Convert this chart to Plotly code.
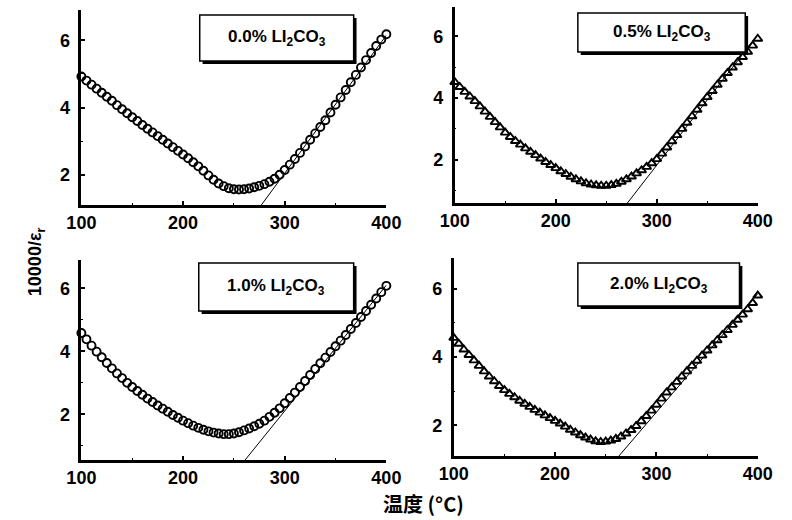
import plotly.graph_objects as go

# Temperature grid (°C) shared by all four samples
temperature = [100, 105, 110, 115, 120, 125, 130, 135, 140, 145, 150, 155, 160, 165, 170,
               175, 180, 185, 190, 195, 200, 205, 210, 215, 220, 225, 230, 235, 240, 245,
               250, 255, 260, 265, 270, 275, 280, 285, 290, 295, 300, 305, 310, 315, 320,
               325, 330, 335, 340, 345, 350, 355, 360, 365, 370, 375, 380, 385, 390, 395, 400]

# 10000/eps_r for each Li2CO3 content
inv_eps_00 = [4.92, 4.80, 4.68, 4.56, 4.44, 4.32, 4.20, 4.07, 3.95, 3.83, 3.71, 3.60, 3.48, 3.37, 3.26,
              3.15, 3.04, 2.93, 2.82, 2.71, 2.60, 2.49, 2.37, 2.25, 2.12, 1.98, 1.85, 1.74, 1.66, 1.60,
              1.57, 1.56, 1.57, 1.59, 1.63, 1.67, 1.72, 1.79, 1.88, 2.00, 2.14, 2.30, 2.47, 2.65, 2.84,
              3.04, 3.23, 3.42, 3.62, 3.85, 4.08, 4.30, 4.52, 4.75, 4.97, 5.19, 5.41, 5.62, 5.83, 6.02, 6.18]
inv_eps_05 = [4.52, 4.36, 4.20, 4.05, 3.90, 3.73, 3.56, 3.39, 3.22, 3.05, 2.88, 2.74, 2.61, 2.49, 2.37,
              2.26, 2.15, 2.04, 1.93, 1.83, 1.73, 1.63, 1.54, 1.45, 1.37, 1.30, 1.24, 1.20, 1.17, 1.16,
              1.16, 1.18, 1.22, 1.29, 1.37, 1.46, 1.56, 1.66, 1.77, 1.89, 2.02, 2.20, 2.40, 2.60, 2.80,
              3.00, 3.20, 3.41, 3.62, 3.83, 4.03, 4.23, 4.43, 4.62, 4.81, 4.99, 5.16, 5.33, 5.50, 5.70, 5.92]
inv_eps_10 = [4.58, 4.38, 4.18, 3.99, 3.81, 3.63, 3.46, 3.30, 3.15, 3.00, 2.87, 2.74, 2.62, 2.50, 2.39,
              2.28, 2.18, 2.08, 1.98, 1.89, 1.80, 1.72, 1.64, 1.57, 1.51, 1.46, 1.42, 1.39, 1.37, 1.37,
              1.39, 1.43, 1.49, 1.55, 1.62, 1.70, 1.80, 1.92, 2.05, 2.19, 2.35, 2.52, 2.69, 2.87, 3.06,
              3.25, 3.44, 3.62, 3.80, 3.98, 4.16, 4.34, 4.52, 4.71, 4.90, 5.09, 5.28, 5.48, 5.68, 5.88, 6.08]
inv_eps_20 = [4.56, 4.39, 4.22, 4.06, 3.90, 3.74, 3.58, 3.43, 3.29, 3.15, 3.03, 2.92, 2.82, 2.72, 2.63,
              2.54, 2.45, 2.37, 2.29, 2.21, 2.13, 2.05, 1.96, 1.87, 1.79, 1.71, 1.64, 1.58, 1.53, 1.51,
              1.52, 1.55, 1.60, 1.67, 1.76, 1.86, 1.98, 2.12, 2.27, 2.43, 2.60, 2.78, 2.96, 3.11, 3.27,
              3.43, 3.58, 3.74, 3.89, 4.04, 4.19, 4.34, 4.49, 4.64, 4.79, 4.94, 5.09, 5.24, 5.40, 5.58, 5.80]

# Curie-Weiss fit lines: end points (T, 10000/eps_r)
fit_x = [[277, 400], [271, 400], [261, 400], [263, 400]]
fit_y = [[1.10, 6.15], [0.60, 6.05], [0.55, 6.10], [1.10, 5.85]]

labels = ["0.0% LI<sub>2</sub>CO<sub>3</sub>", "0.5% LI<sub>2</sub>CO<sub>3</sub>",
          "1.0% LI<sub>2</sub>CO<sub>3</sub>", "2.0% LI<sub>2</sub>CO<sub>3</sub>"]
series = [inv_eps_00, inv_eps_05, inv_eps_10, inv_eps_20]
symbols = ["circle-open", "triangle-up-open", "circle-open", "triangle-up-open"]
y_ranges = [[1.10, 6.90], [0.60, 6.95], [0.55, 6.90], [1.10, 6.90]]

W, H = 792, 520
# plot areas in pixels: (left, right, top, bottom)
areas = [(69, 386, 10, 205), (457, 772, 7, 203), (69, 386, 260, 460), (456, 772, 258, 456)]
# label boxes in pixels: (left, top, right, bottom)
boxes = [(192, 15, 352, 61), (585, 13, 759, 52), (191, 263, 352, 311), (585, 263, 753, 306)]

FONT = "Liberation Sans, Arial, sans-serif"
fig = go.Figure()
shapes = []
annotations = []

for i in range(4):
    xa = "x" if i == 0 else f"x{i+1}"
    ya = "y" if i == 0 else f"y{i+1}"
    fig.add_trace(go.Scatter(
        x=temperature, y=series[i], mode="markers", xaxis=xa, yaxis=ya,
        marker=dict(symbol=symbols[i], size=8,
                    color="black", line=dict(width=1.9, color="black")),
        showlegend=False, cliponaxis=False))
    fig.add_trace(go.Scatter(
        x=fit_x[i], y=fit_y[i], mode="lines", xaxis=xa, yaxis=ya,
        line=dict(color="black", width=1), showlegend=False))

    l, r, t, b = areas[i]
    axis_common = dict(showline=True, linecolor="black", linewidth=2.5, showgrid=False,
                       zeroline=False, ticks="inside", ticklen=4, tickwidth=1.5, tickcolor="black",
                       tickfont=dict(family=FONT, size=18, color="black", weight="bold"),
                       mirror=False)
    fig.layout[f"xaxis{'' if i == 0 else i+1}"] = dict(
        axis_common, domain=[l / W, r / W], anchor=ya, range=[100, 400],
        tickvals=[100, 200, 300, 400], ticklabelstandoff=0,
        minor=dict(ticks="inside", ticklen=2, tickwidth=1.2, tickcolor="black", dtick=50))
    fig.layout[f"yaxis{'' if i == 0 else i+1}"] = dict(
        axis_common, domain=[1 - b / H, 1 - t / H], anchor=xa, range=y_ranges[i],
        tickvals=[2, 4, 6], ticklabelstandoff=5,
        minor=dict(ticks="inside", ticklen=2, tickwidth=1.2, tickcolor="black", dtick=1))

    bl, bt, br, bb = boxes[i]
    # drop shadow then the framed box
    shapes.append(dict(type="rect", xref="paper", yref="paper",
                       x0=(bl + 3) / W, x1=(br + 3) / W, y0=1 - (bb + 3) / H, y1=1 - (bt + 3) / H,
                       fillcolor="black", line=dict(width=0)))
    shapes.append(dict(type="rect", xref="paper", yref="paper",
                       x0=bl / W, x1=br / W, y0=1 - bb / H, y1=1 - bt / H,
                       fillcolor="white", line=dict(color="black", width=1.5)))
    annotations.append(dict(xref="paper", yref="paper", x=(bl + br) / 2 / W, y=1 - (bt + bb) / 2 / H,
                            text=labels[i], showarrow=False, xanchor="center", yanchor="middle",
                            font=dict(family=FONT, size=17, color="black", weight="bold")))

annotations.append(dict(xref="paper", yref="paper", x=22 / W, y=1 - 262 / H,
                        text="10000/ε<sub>r</sub>", showarrow=False, textangle=-90,
                        xanchor="center", yanchor="middle",
                        font=dict(family=FONT, size=18, color="black", weight="bold")))
annotations.append(dict(xref="paper", yref="paper", x=425 / W, y=1 - 503 / H,
                        text="温度 (°C)", showarrow=False, xanchor="center", yanchor="middle",
                        font=dict(family="Noto Sans CJK SC, " + FONT, size=20, color="black",
                                  weight="bold")))

fig.update_layout(width=W, height=H, margin=dict(l=0, r=0, t=0, b=0),
                  paper_bgcolor="white", plot_bgcolor="white",
                  shapes=shapes, annotations=annotations)

fig.write_html("out.html")
